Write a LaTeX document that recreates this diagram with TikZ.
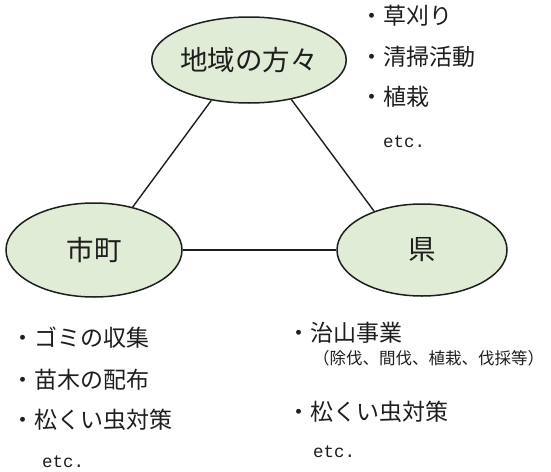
\documentclass[tikz,border=0pt]{standalone}
\usepackage{fontspec}
\setmainfont{Liberation Serif}
\newfontfamily\jp{Noto Sans CJK JP}
\newfontfamily\mono{Liberation Mono}
\usetikzlibrary{shapes.geometric}
\definecolor{ellfill}{HTML}{E0ECD5}
\definecolor{ink}{HTML}{1E1E1E}
\tikzset{
  bubble/.style={ellipse, draw=ink, line width=1.5pt, fill=ellfill, inner sep=0pt,
    font=\jp\fontsize{27.5}{32}\selectfont, text=ink},
  link/.style={draw=ink, line width=1.4pt},
  item/.style={anchor=west, inner sep=0pt, font=\jp\fontsize{23}{27}\selectfont, text=ink},
  subitem/.style={anchor=west, inner sep=0pt, font=\jp\fontsize{16.5}{20}\selectfont, text=ink},
  etcnote/.style={anchor=base west, inner sep=0pt, font=\mono\fontsize{17.5}{20}\selectfont, text=ink}
}
\begin{document}
\begin{tikzpicture}[x=1pt,y=-1pt]
\useasboundingbox (0,0) rectangle (551,471);
\fill[white] (0,0) rectangle (551,471);
% ellipses
\node[bubble, minimum width=170pt, minimum height=86pt] (top) at (249,60) {地域の方々};
\node[bubble, minimum width=176pt, minimum height=94pt] (city) at (94,250) {市町};
\node[bubble, minimum width=170pt, minimum height=92pt] (pref) at (422,250) {県};
% connectors
\draw[link] (top.227) -- (city.48);
\draw[link] (top.317) -- (pref.141);
\draw[link] (city.east) -- (pref.west);
% top-right list
\node[item] (t1) at (360,16) {・草刈り};
\node[item] (t2) at (360,57) {・清掃活動};
\node[item] (t3) at (360,97) {・植栽};
\node[etcnote] (t4) at (383,147) {etc.};
% bottom-left list
\node[item] (c1) at (11,338) {・ゴミの収集};
\node[item] (c2) at (11,380) {・苗木の配布};
\node[item] (c3) at (11,420) {・松くい虫対策};
\node[etcnote] (c4) at (42,467) {etc.};
% bottom-right list
\node[item] (p1) at (287,333) {・治山事業};
\node[subitem] (p2) at (313,358) {（除伐、間伐、植栽、伐採等）};
\node[item] (p3) at (287,412) {・松くい虫対策};
\node[etcnote] (p4) at (313,457) {etc.};
\end{tikzpicture}
\end{document}
